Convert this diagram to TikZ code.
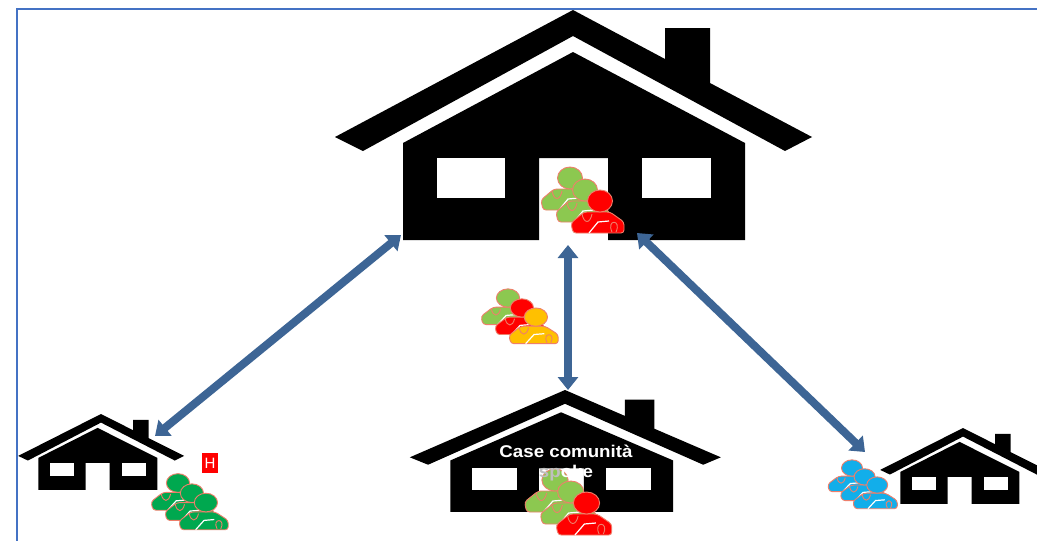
\documentclass[tikz,border=0pt]{standalone}
\usepackage{fontspec}
\usepackage{tikz}
\usepackage{xcolor}
\setmainfont{Liberation Sans}
\usetikzlibrary{arrows.meta}
\definecolor{frameblue}{HTML}{4472C4}
\definecolor{linkblue}{HTML}{3D6595}
\definecolor{carerline}{HTML}{EE7F6B}
\definecolor{carerlime}{HTML}{8CC850}
\definecolor{carerred}{HTML}{FF0000}
\definecolor{careramber}{HTML}{FFC000}
\definecolor{carergreen}{HTML}{00A84F}
\definecolor{carerblue}{HTML}{12AEEA}
\tikzset{
  linkarrow/.style={{Triangle[length=13pt,width=20pt]}-{Triangle[length=13pt,width=20pt]}, line width=8pt, draw=linkblue},
  hlabel/.style={fill=carerred, text=white, inner sep=0pt, minimum width=16pt, minimum height=20pt, font=\fontsize{15}{15}\selectfont},
  caselabel/.style={text=white, align=center, xscale=1.1, transform shape, font=\fontsize{17}{20}\selectfont\bfseries},
  pics/house/.default=0,
  pics/house/.style={code={
    \fill[black] (0,0) -- (92,49) -- (92,18) -- (137,18) -- (137,73) -- (239,127) -- (212,141) -- (0,26)
      -- (-210,141) -- (-238,127) -- cycle;
    \begin{scope}[shift={(#1,0)}]
    \fill[black] (0,42) -- (172,133) -- (172,230) -- (35,230) -- (35,148) -- (-34,148) -- (-34,230)
      -- (-170,230) -- (-170,133) -- cycle;
    \fill[white] (-136,148) rectangle (-68,188);
    \fill[white] (69,148) rectangle (138,188);
    \end{scope}
  }},
  pics/carer/.style={code={
    \draw[carerline, fill=#1, line width=.9pt, rounded corners=3pt] (-29,22) -- (-16,11) -- (10,11) -- (24,21) -- (24,32) -- (-27,32) -- cycle;
    \draw[carerline, fill=#1, line width=.9pt] (0,0) ellipse (12.5 and 11);
    \draw[white, line width=1.2pt] (-11,32) -- (-2,21) -- (9,20);
    \draw[carerline, line width=.9pt] (-18,13) .. controls (-16,23) and (-10,23) .. (-8,13);
    \draw[carerline, line width=.9pt] (12,31) .. controls (6,18) and (22,18) .. (16,31);
  }},
  pics/carers/.style n args={3}{code={
    \pic[transform shape] {carer=#1};
    \pic[transform shape] at (15,12) {carer=#2};
    \pic[transform shape] at (30,23) {carer=#3};
  }}
}
\begin{document}
\begin{tikzpicture}[x=1pt, y=-1pt]
\clip (0,0) rectangle (1037,541);
\fill[white] (0,0) rectangle (1037,541);
\draw[frameblue, line width=1.8pt] (17,541) -- (17,9) -- (1037,9);
\pic (mainhouse) at (573,10) {house};
\pic[xscale=.652, yscale=.53] (hubhouse) at (565,390) {house=-6};
\pic[xscale=.348, yscale=.33] (lefthouse) at (101,414) {house=-10};
\pic[xscale=.348, yscale=.33] (righthouse) at (963,428) {house=-10};
\pic (maincarers) at (570,178) {carers={carerlime}{carerlime}{carerred}};
\pic[xscale=.93, yscale=.83] (midcarers) at (508,298) {carers={carerlime}{carerred}{careramber}};
\pic[xscale=1.05] (hubcarers) at (555,480) {carers={carerlime}{carerlime}{carerred}};
\pic[xscale=.93, yscale=.85] (leftcarers) at (178,483) {carers={carergreen}{carergreen}{carergreen}};
\pic[xscale=.84, yscale=.74] (rightcarers) at (852,468) {carers={carerblue}{carerblue}{carerblue}};
\node[caselabel] (caselabel) at (566,463) {Case comunità\\{\color{black!25}sp}oke};
\node[hlabel] (hospital) at (210,463) {H};
\coordinate (mainleft) at (401,235);
\coordinate (mainmid) at (568,245);
\coordinate (mainright) at (637,233);
\coordinate (leftend) at (155,436);
\coordinate (hubend) at (568,390);
\coordinate (rightend) at (865,452);
\draw[linkarrow] (mainleft) -- (leftend);
\draw[linkarrow] (mainmid) -- (hubend);
\draw[linkarrow] (mainright) -- (rightend);
\end{tikzpicture}
\end{document}
